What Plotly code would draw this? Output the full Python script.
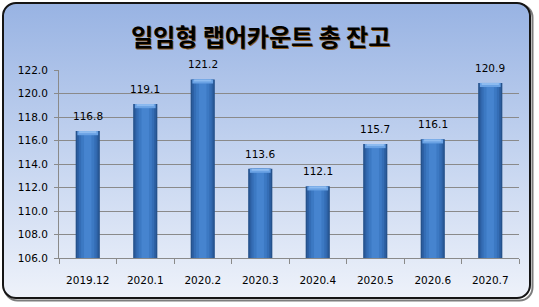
import base64
import plotly.graph_objects as go

categories = ["2019.12", "2020.1", "2020.2", "2020.3", "2020.4", "2020.5", "2020.6", "2020.7"]
values = [116.8, 119.1, 121.2, 113.6, 112.1, 115.7, 116.1, 120.9]
title_text = "일임형 랩어카운트 총 잔고"
y_ticks = [106.0, 108.0, 110.0, 112.0, 114.0, 116.0, 118.0, 120.0, 122.0]

W, H = 539, 307
ML, MR, MT, MB = 59, 20, 70, 49
PW, PH = W - ML - MR, H - MT - MB

svg = f'''<svg xmlns="http://www.w3.org/2000/svg" width="{W}" height="{H}" viewBox="0 0 {W} {H}">
<defs><linearGradient id="g" x1="0" y1="0" x2="0" y2="1">
<stop offset="0" stop-color="#98b3e3"/><stop offset="0.5" stop-color="#c3d3ef"/><stop offset="1" stop-color="#eef2fa"/>
</linearGradient></defs>
<rect x="4.5" y="4.5" width="528" height="296" rx="13" fill="none" stroke="#7d7d7d" stroke-width="2"/>
<rect x="3" y="3" width="527" height="295" rx="13" fill="url(#g)" stroke="#151515" stroke-width="2"/>
</svg>'''
src = "data:image/svg+xml;base64," + base64.b64encode(svg.encode()).decode()

idx = list(range(len(categories)))

fig = go.Figure()
layers = [(0.42, "#25528c"), (0.37, "#2c5fa2"), (0.31, "#346db5"), (0.23, "#3c79c3"), (0.13, "#4684cf")]
for w, c in layers:
    fig.add_trace(go.Bar(x=idx, y=values, width=w, marker=dict(color=c, line=dict(width=0)),
                         hoverinfo="skip", showlegend=False))
cap = 0.35
fig.add_trace(go.Bar(x=idx, y=[cap] * len(values), base=[v - cap for v in values], width=0.36,
                     marker=dict(color="#6aa2e4", line=dict(width=0)), hoverinfo="skip", showlegend=False))
fig.add_trace(go.Bar(x=idx, y=[cap * 0.5] * len(values), base=[v - cap * 0.5 for v in values], width=0.30,
                     marker=dict(color="#8dbbf0", line=dict(width=0)), hoverinfo="skip", showlegend=False))

for i, v in zip(idx, values):
    fig.add_annotation(x=i, y=v, text=f"{v:.1f}", showarrow=False, yanchor="bottom", yshift=7,
                       font=dict(family="DejaVu Sans", size=10.5, color="#000000"))

tx, ty = (260 - ML) / PW, 1 + (MT - 36) / PH
fig.add_annotation(xref="paper", yref="paper", x=tx, y=ty, xanchor="center", yanchor="middle",
                   text=f"<b>{title_text}</b>", showarrow=False, xshift=1, yshift=-1,
                   font=dict(family="Noto Sans CJK KR", size=24, color="#8a5a1e"))
fig.add_annotation(xref="paper", yref="paper", x=tx, y=ty, xanchor="center", yanchor="middle",
                   text=f"<b>{title_text}</b>", showarrow=False,
                   font=dict(family="Noto Sans CJK KR", size=24, color="#000000"))

fig.add_layout_image(dict(source=src, xref="paper", yref="paper", x=-ML / PW, y=1 + MT / PH,
                          sizex=W / PW, sizey=H / PH, sizing="stretch", xanchor="left", yanchor="top",
                          layer="below"))

fig.update_layout(
    width=W, height=H, margin=dict(l=ML, r=MR, t=MT, b=MB),
    paper_bgcolor="white", plot_bgcolor="rgba(0,0,0,0)",
    barmode="overlay", showlegend=False,
    font=dict(family="DejaVu Sans", size=10.5, color="#000000"),
    xaxis=dict(range=[-0.5, len(categories) - 0.5], tickmode="array", tickvals=idx, ticktext=categories,
               showgrid=False, showline=True, linecolor="#8a8a8a", linewidth=1, tickangle=0,
               ticks="", ticklabelstandoff=12,
               minor=dict(tickmode="array", tickvals=[i - 0.5 for i in idx] + [len(idx) - 0.5],
                          ticks="outside", ticklen=5, tickcolor="#8a8a8a", showgrid=False),
               tickfont=dict(family="DejaVu Sans", size=10.5, color="#000000")),
    yaxis=dict(range=[106, 122], tickvals=y_ticks, ticktext=[f"{t:.1f}" for t in y_ticks],
               showgrid=True, gridcolor="#8a8a8a", gridwidth=1, showline=True, linecolor="#8a8a8a",
               ticks="outside", ticklen=4, tickcolor="#8a8a8a", zeroline=False, ticklabelstandoff=4,
               tickfont=dict(family="DejaVu Sans", size=10.5, color="#000000")),
)

fig.write_html("out.html")
